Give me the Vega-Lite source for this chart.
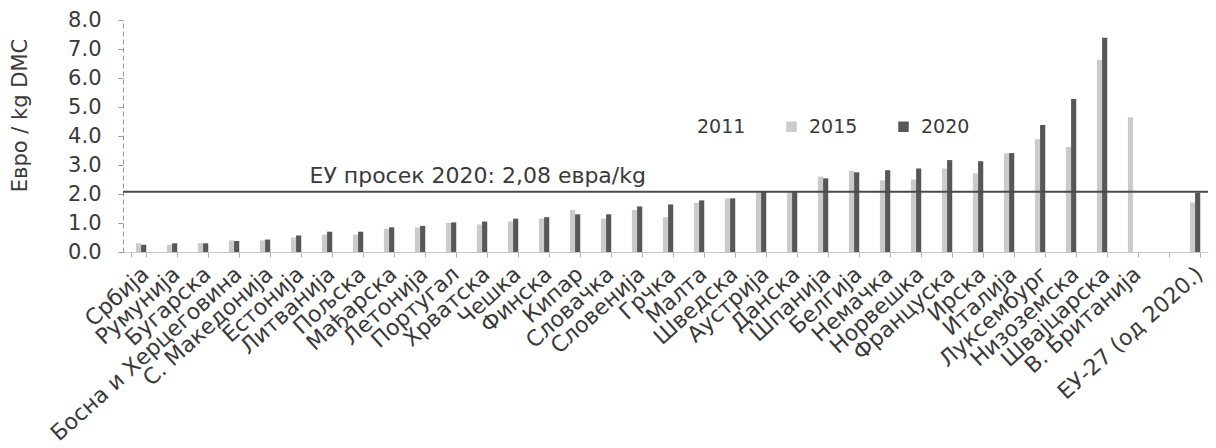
{
  "$schema": "https://vega.github.io/schema/vega-lite/v6.json",
  "width": 1085,
  "height": 232,
  "autosize": {"type": "none"},
  "padding": {"left": 123, "top": 20, "right": 8, "bottom": 196},
  "background": "white",
  "config": {"view": {"stroke": null}, "font": "DejaVu Sans"},
  "datasets": {
    "bars": [
      {"country": "Србија", "year": "2011", "value": 0.3},
      {"country": "Србија", "year": "2015", "value": 0.3},
      {"country": "Србија", "year": "2020", "value": 0.25},
      {"country": "Румунија", "year": "2011", "value": 0.3},
      {"country": "Румунија", "year": "2015", "value": 0.25},
      {"country": "Румунија", "year": "2020", "value": 0.3},
      {"country": "Бугарска", "year": "2011", "value": 0.3},
      {"country": "Бугарска", "year": "2015", "value": 0.3},
      {"country": "Бугарска", "year": "2020", "value": 0.3},
      {"country": "Босна и Херцеговина", "year": "2011", "value": 0.35},
      {"country": "Босна и Херцеговина", "year": "2015", "value": 0.4},
      {"country": "Босна и Херцеговина", "year": "2020", "value": 0.38},
      {"country": "С. Македонија", "year": "2011", "value": 0.35},
      {"country": "С. Македонија", "year": "2015", "value": 0.4},
      {"country": "С. Македонија", "year": "2020", "value": 0.43},
      {"country": "Естонија", "year": "2011", "value": 0.5},
      {"country": "Естонија", "year": "2015", "value": 0.5},
      {"country": "Естонија", "year": "2020", "value": 0.57},
      {"country": "Литванија", "year": "2011", "value": 0.55},
      {"country": "Литванија", "year": "2015", "value": 0.6},
      {"country": "Литванија", "year": "2020", "value": 0.7},
      {"country": "Пољска", "year": "2011", "value": 0.55},
      {"country": "Пољска", "year": "2015", "value": 0.6},
      {"country": "Пољска", "year": "2020", "value": 0.7},
      {"country": "Мађарска", "year": "2011", "value": 0.7},
      {"country": "Мађарска", "year": "2015", "value": 0.8},
      {"country": "Мађарска", "year": "2020", "value": 0.85},
      {"country": "Летонија", "year": "2011", "value": 0.7},
      {"country": "Летонија", "year": "2015", "value": 0.85},
      {"country": "Летонија", "year": "2020", "value": 0.9},
      {"country": "Португал", "year": "2011", "value": 0.9},
      {"country": "Португал", "year": "2015", "value": 1.0},
      {"country": "Португал", "year": "2020", "value": 1.02},
      {"country": "Хрватска", "year": "2011", "value": 0.9},
      {"country": "Хрватска", "year": "2015", "value": 0.95},
      {"country": "Хрватска", "year": "2020", "value": 1.05},
      {"country": "Чешка", "year": "2011", "value": 0.9},
      {"country": "Чешка", "year": "2015", "value": 1.05},
      {"country": "Чешка", "year": "2020", "value": 1.15},
      {"country": "Финска", "year": "2011", "value": 1.0},
      {"country": "Финска", "year": "2015", "value": 1.15},
      {"country": "Финска", "year": "2020", "value": 1.2},
      {"country": "Кипар", "year": "2011", "value": 1.3},
      {"country": "Кипар", "year": "2015", "value": 1.45},
      {"country": "Кипар", "year": "2020", "value": 1.3},
      {"country": "Словачка", "year": "2011", "value": 1.0},
      {"country": "Словачка", "year": "2015", "value": 1.15},
      {"country": "Словачка", "year": "2020", "value": 1.3},
      {"country": "Словенија", "year": "2011", "value": 1.2},
      {"country": "Словенија", "year": "2015", "value": 1.45},
      {"country": "Словенија", "year": "2020", "value": 1.57},
      {"country": "Грчка", "year": "2011", "value": 1.2},
      {"country": "Грчка", "year": "2015", "value": 1.2},
      {"country": "Грчка", "year": "2020", "value": 1.64},
      {"country": "Малта", "year": "2011", "value": 1.5},
      {"country": "Малта", "year": "2015", "value": 1.7},
      {"country": "Малта", "year": "2020", "value": 1.78},
      {"country": "Шведска", "year": "2011", "value": 1.7},
      {"country": "Шведска", "year": "2015", "value": 1.85},
      {"country": "Шведска", "year": "2020", "value": 1.85},
      {"country": "Аустрија", "year": "2011", "value": 1.9},
      {"country": "Аустрија", "year": "2015", "value": 2.1},
      {"country": "Аустрија", "year": "2020", "value": 2.08},
      {"country": "Данска", "year": "2011", "value": 1.9},
      {"country": "Данска", "year": "2015", "value": 2.1},
      {"country": "Данска", "year": "2020", "value": 2.08},
      {"country": "Шпанија", "year": "2011", "value": 2.3},
      {"country": "Шпанија", "year": "2015", "value": 2.6},
      {"country": "Шпанија", "year": "2020", "value": 2.54},
      {"country": "Белгија", "year": "2011", "value": 2.5},
      {"country": "Белгија", "year": "2015", "value": 2.8},
      {"country": "Белгија", "year": "2020", "value": 2.75},
      {"country": "Немачка", "year": "2011", "value": 2.2},
      {"country": "Немачка", "year": "2015", "value": 2.47},
      {"country": "Немачка", "year": "2020", "value": 2.82},
      {"country": "Норвешка", "year": "2011", "value": 2.3},
      {"country": "Норвешка", "year": "2015", "value": 2.5},
      {"country": "Норвешка", "year": "2020", "value": 2.88},
      {"country": "Француска", "year": "2011", "value": 2.6},
      {"country": "Француска", "year": "2015", "value": 2.88},
      {"country": "Француска", "year": "2020", "value": 3.17},
      {"country": "Ирска", "year": "2011", "value": 2.5},
      {"country": "Ирска", "year": "2015", "value": 2.71},
      {"country": "Ирска", "year": "2020", "value": 3.13},
      {"country": "Италија", "year": "2011", "value": 3.0},
      {"country": "Италија", "year": "2015", "value": 3.4},
      {"country": "Италија", "year": "2020", "value": 3.41},
      {"country": "Луксембург", "year": "2011", "value": 3.5},
      {"country": "Луксембург", "year": "2015", "value": 3.89},
      {"country": "Луксембург", "year": "2020", "value": 4.38},
      {"country": "Низоземска", "year": "2011", "value": 3.3},
      {"country": "Низоземска", "year": "2015", "value": 3.62},
      {"country": "Низоземска", "year": "2020", "value": 5.28},
      {"country": "Швајцарска", "year": "2011", "value": 6.0},
      {"country": "Швајцарска", "year": "2015", "value": 6.63},
      {"country": "Швајцарска", "year": "2020", "value": 7.39},
      {"country": "В. Британија", "year": "2011", "value": 4.2},
      {"country": "В. Британија", "year": "2015", "value": 4.65},
      {"country": "ЕУ-27 (од 2020.)", "year": "2015", "value": 1.71},
      {"country": "ЕУ-27 (од 2020.)", "year": "2020", "value": 2.05}
    ],
    "avg": [
      {"value": 2.08, "label": "ЕУ просек 2020: 2,08 евра/kg", "anchor": "Литванија"}
    ]
  },
  "encoding": {
    "y": {
      "field": "value",
      "type": "quantitative",
      "scale": {"domain": [0, 8]},
      "axis": {
        "values": [0, 1, 2, 3, 4, 5, 6, 7, 8],
        "tickCount": 9,
        "format": ".1f",
        "labelOverlap": false,
        "title": "Евро / kg DMC",
        "grid": false,
        "domainColor": "#9a9a9a",
        "domainDash": [5, 3],
        "tickColor": "#9a9a9a",
        "tickSize": 5,
        "labelFontSize": 21,
        "labelColor": "#3a3a3a",
        "labelPadding": 17,
        "titleFontSize": 21,
        "titleFontWeight": "normal",
        "titleColor": "#3a3a3a",
        "titleX": -93,
        "titleY": 95
      }
    }
  },
  "layer": [
    {
      "data": {"name": "bars"},
      "mark": {"type": "bar"},
      "encoding": {
        "x": {
          "field": "country",
          "type": "nominal",
          "sort": null,
          "scale": {
            "domain": ["Србија", "Румунија", "Бугарска", "Босна и Херцеговина", "С. Македонија", "Естонија", "Литванија", "Пољска", "Мађарска", "Летонија", "Португал", "Хрватска", "Чешка", "Финска", "Кипар", "Словачка", "Словенија", "Грчка", "Малта", "Шведска", "Аустрија", "Данска", "Шпанија", "Белгија", "Немачка", "Норвешка", "Француска", "Ирска", "Италија", "Луксембург", "Низоземска", "Швајцарска", "В. Британија", " ", "ЕУ-27 (од 2020.)"],
            "paddingInner": 0.5,
            "paddingOuter": 0.25
          },
          "axis": {
            "title": null,
            "labelAngle": -42,
            "labelFontSize": 22,
            "labelColor": "#3a3a3a",
            "labelLimit": 400,
            "labelOverlap": false,
            "labelPadding": 6,
            "domainColor": "#c8c8c8",
            "tickColor": "#b0b0b0",
            "tickSize": 5,
            "tickBand": "extent"
          }
        },
        "xOffset": {"field": "year", "type": "nominal", "sort": ["2011", "2015", "2020"], "scale": {"domain": ["2011", "2015", "2020"], "paddingInner": 0}},
        "color": {
          "field": "year",
          "type": "nominal",
          "scale": {"domain": ["2011", "2015", "2020"], "range": ["#ffffff", "#cbcbcb", "#575757"]},
          "legend": {
            "orient": "none",
            "legendX": 547,
            "legendY": 97,
            "direction": "horizontal",
            "title": null,
            "symbolType": "square",
            "symbolSize": 110,
            "symbolStrokeWidth": 0,
            "labelFontSize": 19,
            "labelColor": "#3a3a3a",
            "labelOffset": 8,
            "columnPadding": 36
          }
        }
      }
    },
    {
      "data": {"name": "avg"},
      "mark": {"type": "rule", "color": "#4a4a4a", "strokeWidth": 2},
      "encoding": {}
    },
    {
      "data": {"name": "avg"},
      "mark": {"type": "text", "align": "left", "baseline": "bottom", "dx": -15, "dy": -4, "fontSize": 22, "color": "#3a3a3a"},
      "encoding": {
        "x": {"field": "anchor", "type": "nominal"},
        "text": {"field": "label"}
      }
    }
  ]
}
